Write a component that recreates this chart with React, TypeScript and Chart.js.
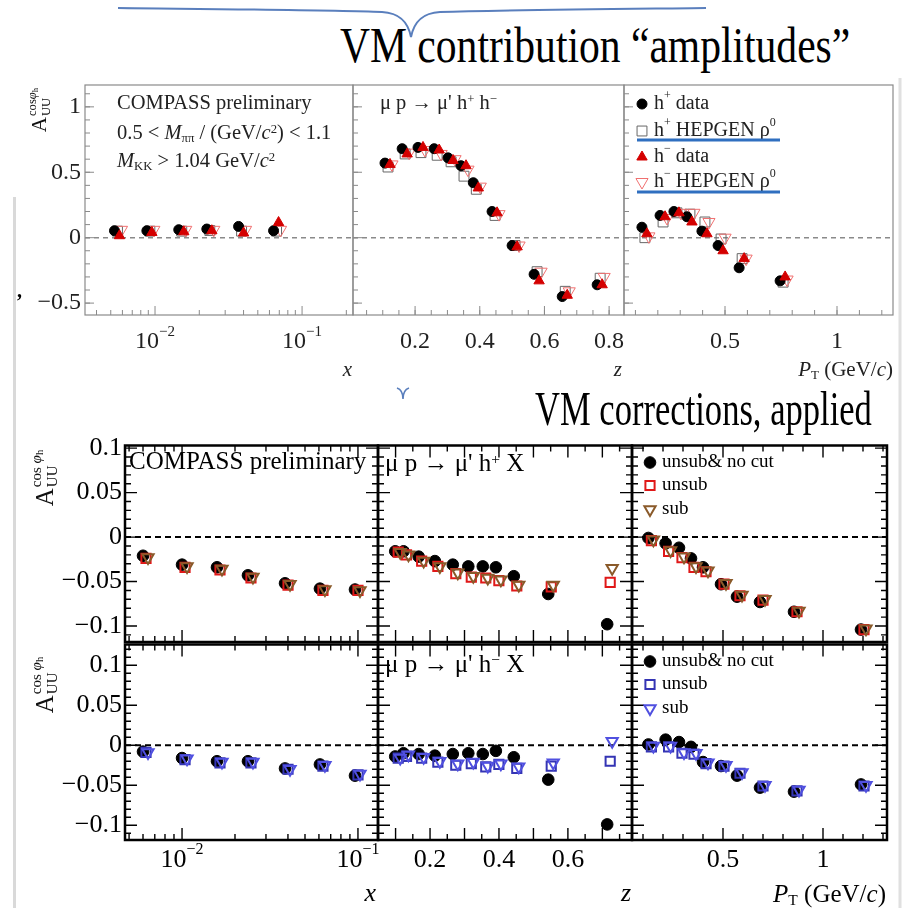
import React, { useEffect, useRef } from 'react';
import { Chart, registerables } from 'chart.js';
Chart.register(...registerables);

const SERIF = '"Liberation Serif", "Times New Roman", Times, serif';

// ---------------- DATA: top figure (VM contribution "amplitudes") ----------------
const topXBins = [0.0053, 0.0088, 0.0145, 0.0225, 0.037, 0.064];
const topXHpData = [0.053, 0.053, 0.061, 0.066, 0.086, 0.053];
const topXHpHepgen = [0.05, 0.05, 0.05, 0.055, 0.05, 0.05];
const topXHmData = [0.015, 0.04, 0.045, 0.053, 0.036, 0.116];
const topXHmHepgen = [0.06, 0.06, 0.06, 0.06, 0.06, 0.06];

const topZBins = [0.107, 0.16, 0.209, 0.259, 0.302, 0.342, 0.38, 0.438, 0.5, 0.568, 0.655, 0.763];
const topZHpData = [0.57, 0.68, 0.69, 0.68, 0.61, 0.55, 0.42, 0.2, -0.06, -0.28, -0.45, -0.36];
const topZHpHepgen = [0.54, 0.64, 0.65, 0.63, 0.58, 0.47, 0.37, 0.17, -0.06, -0.26, -0.41, -0.31];
const topZHmData = [0.56, 0.64, 0.69, 0.67, 0.59, 0.55, 0.38, 0.19, -0.07, -0.33, -0.44, -0.36];
const topZHmHepgen = [0.56, 0.65, 0.67, 0.64, 0.6, 0.52, 0.39, 0.18, -0.06, -0.26, -0.41, -0.3];

const topPtBins = [0.129, 0.21, 0.272, 0.33, 0.397, 0.469, 0.563, 0.746];
const topPtHpData = [0.08, 0.17, 0.2, 0.16, 0.05, -0.06, -0.23, -0.33];
const topPtHpHepgen = [0.0, 0.12, 0.19, 0.18, 0.12, -0.01, -0.16, -0.34];
const topPtHmData = [0.03, 0.16, 0.19, 0.12, 0.03, -0.1, -0.16, -0.3];
const topPtHmHepgen = [0.01, 0.15, 0.19, 0.19, 0.12, 0.0, -0.16, -0.32];

// ---------------- DATA: bottom figure (VM corrections, applied) ----------------
const botXBins = [0.006, 0.01, 0.0158, 0.0237, 0.0385, 0.0608, 0.0962];
const botZBins = [0.099, 0.123, 0.167, 0.214, 0.266, 0.311, 0.353, 0.391, 0.443, 0.543, 0.714];
const botPtBins = [0.127, 0.213, 0.28, 0.34, 0.4, 0.49, 0.57, 0.685, 0.855, 1.19];

const hpXNoCut = [-0.021, -0.031, -0.034, -0.043, -0.052, -0.058, -0.059];
const hpXUnsub = [-0.024, -0.034, -0.037, -0.046, -0.054, -0.06, -0.06];
const hpXSub = [-0.023, -0.033, -0.036, -0.045, -0.053, -0.059, -0.06];
const hpZNoCut = [-0.016, -0.016, -0.022, -0.027, -0.031, -0.033, -0.033, -0.034, -0.044, -0.064, -0.098];
const hpZUnsub = [-0.017, -0.02, -0.027, -0.033, -0.041, -0.045, -0.046, -0.049, -0.055, -0.056, -0.051];
const hpZSub = [-0.017, -0.02, -0.027, -0.033, -0.04, -0.044, -0.046, -0.048, -0.054, -0.054, -0.035];
const hpPtNoCut = [-0.001, -0.007, -0.012, -0.024, -0.034, -0.053, -0.067, -0.073, -0.084, -0.104];
const hpPtUnsub = [-0.004, -0.016, -0.023, -0.034, -0.039, -0.053, -0.066, -0.071, -0.084, -0.104];
const hpPtSub = [-0.003, -0.015, -0.022, -0.033, -0.038, -0.052, -0.065, -0.07, -0.083, -0.103];

const hmXNoCut = [-0.008, -0.016, -0.02, -0.02, -0.029, -0.024, -0.038];
const hmXUnsub = [-0.009, -0.018, -0.022, -0.022, -0.03, -0.026, -0.037];
const hmXSub = [-0.009, -0.017, -0.021, -0.021, -0.03, -0.025, -0.036];
const hmZNoCut = [-0.014, -0.01, -0.011, -0.013, -0.011, -0.01, -0.011, -0.007, -0.015, -0.043, -0.099];
const hmZUnsub = [-0.016, -0.014, -0.016, -0.021, -0.025, -0.023, -0.027, -0.024, -0.029, -0.026, -0.02];
const hmZSub = [-0.016, -0.012, -0.015, -0.02, -0.023, -0.021, -0.026, -0.023, -0.027, -0.022, 0.005];
const hmPtNoCut = [0.001, 0.007, 0.004, -0.002, -0.021, -0.026, -0.038, -0.053, -0.058, -0.049];
const hmPtUnsub = [-0.002, -0.002, -0.01, -0.011, -0.023, -0.026, -0.035, -0.051, -0.057, -0.051];
const hmPtSub = [-0.001, -0.001, -0.009, -0.01, -0.022, -0.025, -0.034, -0.05, -0.056, -0.05];

// ---------------- TICK LABELS ----------------
const topYTickValues = [-0.5, 0, 0.5, 1];
const topYTickLabels = ['−0.5', '0', '0.5', '1'];
const logTickValues = [0.01, 0.1];
const logTickExps = ['−2', '−1'];
const topZTickValues = [0.2, 0.4, 0.6, 0.8];
const topZTickLabels = ['0.2', '0.4', '0.6', '0.8'];
const ptTickValues = [0.5, 1];
const ptTickLabels = ['0.5', '1'];
const botYTickValues = [-0.1, -0.05, 0, 0.05, 0.1];
const botYTickLabels = ['−0.1', '−0.05', '0', '0.05', '0.1'];
const botZTickValues = [0.2, 0.4, 0.6];
const botZTickLabels = ['0.2', '0.4', '0.6'];

// ---------------- helpers ----------------
function steps(a: number, b: number, s: number) {
  const out: number[] = [];
  for (let v = a; v <= b + 1e-9; v += s) out.push(Math.round(v * 1e6) / 1e6);
  return out;
}
function logMinor(d0: number, d1: number) {
  const out: number[] = [];
  for (let d = d0; d <= d1; d++) for (let k = 2; k <= 9; k++) out.push(k * Math.pow(10, d));
  return out;
}

type Seg = { t: string; sup?: boolean; sub?: boolean; it?: boolean };
function drawRich(ctx: any, segs: Seg[], x: number, y: number, align: string, size: number) {
  const fontFor = (s: Seg) => `${s.it ? 'italic ' : ''}${s.sup || s.sub ? Math.round(size * 0.62) : size}px ${SERIF}`;
  let total = 0;
  const widths = segs.map((s) => {
    ctx.font = fontFor(s);
    const w = ctx.measureText(s.t).width;
    total += w;
    return w;
  });
  let cx = align === 'center' ? x - total / 2 : align === 'right' ? x - total : x;
  ctx.textBaseline = 'middle';
  ctx.textAlign = 'left';
  segs.forEach((s, i) => {
    ctx.font = fontFor(s);
    const dy = s.sup ? -size * 0.4 : s.sub ? size * 0.25 : 0;
    ctx.fillText(s.t, cx, y + dy);
    cx += widths[i];
  });
}

function drawMarker(ctx: any, m: any, x: number, y: number) {
  ctx.save();
  ctx.lineWidth = m.lw;
  ctx.strokeStyle = m.stroke;
  ctx.fillStyle = m.fill;
  ctx.beginPath();
  if (m.shape === 'circle') ctx.arc(x, y, m.r, 0, Math.PI * 2);
  else if (m.shape === 'rect') {
    const s = m.r * Math.SQRT1_2;
    ctx.rect(x - s, y - s, 2 * s, 2 * s);
  } else {
    let rad = ((m.rot || 0) * Math.PI) / 180;
    ctx.moveTo(x + Math.sin(rad) * m.r, y - Math.cos(rad) * m.r);
    rad += (2 * Math.PI) / 3;
    ctx.lineTo(x + Math.sin(rad) * m.r, y - Math.cos(rad) * m.r);
    rad += (2 * Math.PI) / 3;
    ctx.lineTo(x + Math.sin(rad) * m.r, y - Math.cos(rad) * m.r);
    ctx.closePath();
  }
  ctx.fill();
  ctx.stroke();
  ctx.restore();
}

// marker styles
const CLEAR = 'rgba(0,0,0,0)';
const mTopCircle = { shape: 'circle', r: 5, fill: '#000', stroke: '#000', lw: 1 };
const mTopTri = { shape: 'triangle', r: 6, fill: '#d40000', stroke: '#d40000', lw: 1 };
const mTopSq = { shape: 'rect', r: 7, fill: CLEAR, stroke: '#666', lw: 1 };
const mTopITri = { shape: 'triangle', r: 7, rot: 180, fill: CLEAR, stroke: '#f07070', lw: 1 };
const mBotCircle = { shape: 'circle', r: 5.8, fill: '#000', stroke: '#000', lw: 1 };
const mRedSq = { shape: 'rect', r: 6.5, fill: CLEAR, stroke: '#e01818', lw: 2 };
const mBrownTri = { shape: 'triangle', r: 6.5, rot: 180, fill: CLEAR, stroke: '#8a5a2a', lw: 2 };
const mBlueSq = { shape: 'rect', r: 6.5, fill: CLEAR, stroke: '#3434b4', lw: 2 };
const mBlueTri = { shape: 'triangle', r: 6.5, rot: 180, fill: CLEAR, stroke: '#5050e0', lw: 2 };

function series(label: string, xs: number[], ys: number[], m: any, shift: number) {
  return {
    label,
    data: xs.map((x, i) => ({ x, y: ys[i] })),
    showLine: false,
    pointStyle: m.shape,
    pointRadius: m.r,
    pointRotation: m.rot || 0,
    pointBorderWidth: m.lw,
    pointBorderColor: m.stroke,
    pointBackgroundColor: m.fill,
    shift,
  };
}

function framePlugin(o: any) {
  return {
    id: 'rootFrame',
    afterDatasetsUpdate(chart: any) {
      chart.data.datasets.forEach((ds: any, i: number) => {
        if (!ds.shift) return;
        chart.getDatasetMeta(i).data.forEach((el: any) => {
          el.x += ds.shift;
        });
      });
    },
    beforeDatasetsDraw(chart: any) {
      const { ctx, chartArea: a } = chart;
      const y0 = chart.scales.y.getPixelForValue(0);
      ctx.save();
      ctx.strokeStyle = o.zeroColor;
      ctx.lineWidth = o.zeroWidth;
      ctx.setLineDash(o.zeroDash);
      ctx.beginPath();
      ctx.moveTo(a.left, y0);
      ctx.lineTo(a.right, y0);
      ctx.stroke();
      ctx.restore();
    },
    afterDatasetsDraw(chart: any) {
      const { ctx, chartArea: a, scales } = chart;
      const sx = scales.x;
      const sy = scales.y;
      ctx.save();
      ctx.strokeStyle = o.color;
      ctx.lineWidth = o.tickWidth;
      ctx.beginPath();
      const xt = (vals: number[], len: number) =>
        vals.forEach((v) => {
          const p = sx.getPixelForValue(v);
          if (p < a.left + 1 || p > a.right - 1) return;
          ctx.moveTo(p, a.bottom);
          ctx.lineTo(p, a.bottom - len);
          if (o.allSides) {
            ctx.moveTo(p, a.top);
            ctx.lineTo(p, a.top + len);
          }
        });
      const yt = (vals: number[], len: number) =>
        vals.forEach((v) => {
          const p = sy.getPixelForValue(v);
          if (p < a.top + 1 || p > a.bottom - 1) return;
          ctx.moveTo(a.left, p);
          ctx.lineTo(a.left + len, p);
          if (o.allSides) {
            ctx.moveTo(a.right, p);
            ctx.lineTo(a.right - len, p);
          }
        });
      xt(o.xMinor, o.minLen);
      xt(o.xMajor, o.majLen);
      yt(o.yMinor, o.minLen);
      yt(o.yMajor, o.majLen);
      ctx.stroke();
      ctx.lineWidth = o.frameWidth;
      ctx.strokeRect(a.left, a.top, a.right - a.left, a.bottom - a.top);
      ctx.fillStyle = o.labelColor;
      (o.xLabels || []).forEach((L: any) =>
        drawRich(ctx, L.segs, sx.getPixelForValue(L.v), a.bottom + o.xLabelDy, 'center', o.labelSize)
      );
      (o.yLabels || []).forEach((L: any) =>
        drawRich(ctx, L.segs, a.left - o.yLabelDx, sy.getPixelForValue(L.v), 'right', o.labelSize)
      );
      (o.legend || []).forEach((L: any) => {
        drawMarker(ctx, L.m, a.left + L.mx, a.top + L.dy);
        ctx.fillStyle = o.labelColor;
        drawRich(ctx, L.segs, a.left + L.tx, a.top + L.dy, 'left', o.legendSize);
      });
      ctx.restore();
    },
  };
}

const PAD = { l: 90, t: 6, r: 10, b: 50 };

function makeConfig(xAxis: any, yRange: number[], datasets: any[], frame: any) {
  return {
    type: 'scatter',
    data: { datasets },
    options: {
      animation: false,
      responsive: false,
      maintainAspectRatio: false,
      events: [],
      layout: { padding: { left: PAD.l, top: PAD.t, right: PAD.r, bottom: PAD.b } },
      scales: {
        x: { type: xAxis.type, min: xAxis.min, max: xAxis.max, display: false },
        y: { type: 'linear', min: yRange[0], max: yRange[1], display: false },
      },
      plugins: { legend: { display: false }, tooltip: { enabled: false } },
    },
    plugins: [framePlugin(frame)],
  };
}

function Panel({ rect, build }: { rect: any; build: () => any }) {
  const ref = useRef<HTMLCanvasElement>(null);
  const w = rect.r - rect.l + PAD.l + PAD.r;
  const h = rect.b - rect.t + PAD.t + PAD.b;
  useEffect(() => {
    const chart = new Chart(ref.current as HTMLCanvasElement, build() as any);
    return () => chart.destroy();
  }, []);
  return (
    <canvas
      ref={ref}
      width={w}
      height={h}
      style={{ position: 'absolute', left: rect.l - PAD.l, top: rect.t - PAD.t, width: w, height: h, zIndex: 1 }}
    />
  );
}

// ---------------- layout (frame rectangles) ----------------
const TOP_T = 83, TOP_B = 315;
const topRects = [
  { l: 85, t: TOP_T, r: 353, b: TOP_B },
  { l: 353, t: TOP_T, r: 624, b: TOP_B },
  { l: 624, t: TOP_T, r: 893, b: TOP_B },
];
const colsB = [
  [125, 378],
  [378, 632],
  [632, 887],
];
const rowsB = [
  [443, 642],
  [642, 840],
];

const topYRange = [-0.591, 1.167];
const botYRanges = [
  [-0.118, 0.103],
  [-0.1185, 0.126],
];

const topX = [
  { type: 'logarithmic', min: 0.00334, max: 0.222 },
  { type: 'linear', min: 0.008, max: 0.846 },
  { type: 'linear', min: 0.049, max: 1.25 },
];
const botX = [
  { type: 'logarithmic', min: 0.00474, max: 0.13 },
  { type: 'linear', min: 0.049, max: 0.786 },
  { type: 'linear', min: 0.045, max: 1.32 },
];

const plain = (t: string): Seg[] => [{ t }];
const pow10 = (e: string): Seg[] => [{ t: '10' }, { t: e, sup: true }];

function topFrame(col: number) {
  const xMajor = [logTickValues, topZTickValues, ptTickValues][col];
  const xMinor = [logMinor(-3, -1), steps(0.05, 0.85, 0.05), steps(0.1, 1.2, 0.1)][col];
  const xLabels =
    col === 0
      ? logTickValues.map((v, i) => ({ v, segs: pow10(logTickExps[i]) }))
      : col === 1
      ? topZTickValues.map((v, i) => ({ v, segs: plain(topZTickLabels[i]) }))
      : ptTickValues.map((v, i) => ({ v, segs: plain(ptTickLabels[i]) }));
  return {
    color: '#8a8a8a',
    tickWidth: 1,
    frameWidth: 1.2,
    majLen: 9,
    minLen: 5,
    allSides: false,
    zeroColor: '#8a8a8a',
    zeroWidth: 1.5,
    zeroDash: [5, 4],
    xMajor,
    xMinor,
    yMajor: topYTickValues,
    yMinor: steps(-0.5, 1.1, 0.1),
    xLabels,
    yLabels: col === 0 ? topYTickValues.map((v, i) => ({ v, segs: plain(topYTickLabels[i]) })) : [],
    labelSize: 24,
    labelColor: '#222',
    xLabelDy: 27,
    yLabelDx: 4,
    legendSize: 20,
    legend:
      col === 2
        ? [
            { m: mTopCircle, mx: 18, tx: 30, dy: 19, segs: [{ t: 'h' }, { t: '+', sup: true }, { t: ' data' }] },
            { m: mTopSq, mx: 18, tx: 30, dy: 46, segs: [{ t: 'h' }, { t: '+', sup: true }, { t: ' HEPGEN ρ' }, { t: '0', sup: true }] },
            { m: mTopTri, mx: 18, tx: 30, dy: 72, segs: [{ t: 'h' }, { t: '−', sup: true }, { t: ' data' }] },
            { m: mTopITri, mx: 18, tx: 30, dy: 97, segs: [{ t: 'h' }, { t: '−', sup: true }, { t: ' HEPGEN ρ' }, { t: '0', sup: true }] },
          ]
        : [],
  };
}

function botFrame(row: number, col: number, legendMarkers: any[]) {
  const xMajor = [logTickValues, steps(0.1, 0.7, 0.1), ptTickValues][col];
  const xMinor = [logMinor(-3, -1), steps(0.05, 0.75, 0.05), steps(0.1, 1.3, 0.1)][col];
  const xLabels =
    row === 0
      ? []
      : col === 0
      ? logTickValues.map((v, i) => ({ v, segs: pow10(logTickExps[i]) }))
      : col === 1
      ? botZTickValues.map((v, i) => ({ v, segs: plain(botZTickLabels[i]) }))
      : ptTickValues.map((v, i) => ({ v, segs: plain(ptTickLabels[i]) }));
  return {
    color: '#000',
    tickWidth: 1.4,
    frameWidth: 2.5,
    majLen: 12,
    minLen: 6,
    allSides: true,
    zeroColor: '#000',
    zeroWidth: 2,
    zeroDash: [6, 4],
    xMajor,
    xMinor,
    yMajor: botYTickValues,
    yMinor: steps(-0.11, 0.12, 0.01),
    xLabels,
    yLabels: col === 0 ? botYTickValues.map((v, i) => ({ v, segs: plain(botYTickLabels[i]) })) : [],
    labelSize: 26,
    labelColor: '#000',
    xLabelDy: 20,
    yLabelDx: 3,
    legendSize: 19,
    legend:
      col === 2
        ? [
            { m: mBotCircle, mx: 18, tx: 30, dy: 17, segs: plain('unsub& no cut') },
            { m: legendMarkers[0], mx: 18, tx: 30, dy: 40, segs: plain('unsub') },
            { m: legendMarkers[1], mx: 18, tx: 30, dy: 64, segs: plain('sub') },
          ]
        : [],
  };
}

function buildTop(col: number) {
  const bins = [topXBins, topZBins, topPtBins][col];
  const hpD = [topXHpData, topZHpData, topPtHpData][col];
  const hpH = [topXHpHepgen, topZHpHepgen, topPtHpHepgen][col];
  const hmD = [topXHmData, topZHmData, topPtHmData][col];
  const hmH = [topXHmHepgen, topZHmHepgen, topPtHmHepgen][col];
  const ds = [
    series('h- data', bins, hmD, mTopTri, 5),
    series('h+ data', bins, hpD, mTopCircle, 0),
    series('h- HEPGEN rho0', bins, hmH, mTopITri, 7),
    series('h+ HEPGEN rho0', bins, hpH, mTopSq, 3),
  ];
  return makeConfig(topX[col], topYRange, ds, topFrame(col));
}

function buildBot(row: number, col: number) {
  const bins = [botXBins, botZBins, botPtBins][col];
  const noCut = row === 0 ? [hpXNoCut, hpZNoCut, hpPtNoCut][col] : [hmXNoCut, hmZNoCut, hmPtNoCut][col];
  const unsub = row === 0 ? [hpXUnsub, hpZUnsub, hpPtUnsub][col] : [hmXUnsub, hmZUnsub, hmPtUnsub][col];
  const sub = row === 0 ? [hpXSub, hpZSub, hpPtSub][col] : [hmXSub, hmZSub, hmPtSub][col];
  const mSq = row === 0 ? mRedSq : mBlueSq;
  const mTri = row === 0 ? mBrownTri : mBlueTri;
  const ds = [
    series('sub', bins, sub, mTri, 5),
    series('unsub', bins, unsub, mSq, 3),
    series('unsub & no cut', bins, noCut, mBotCircle, 0),
  ];
  return makeConfig(botX[col], botYRanges[row], ds, botFrame(row, col, [mSq, mTri]));
}

// ---------------- HTML text ----------------
const supS: any = { fontSize: '0.62em', verticalAlign: '0.45em', lineHeight: 0 };
const subS: any = { fontSize: '0.62em', verticalAlign: '-0.25em', lineHeight: 0 };

function T({ x, y, size, children, align = 'left', italic = false, color = '#000', sx = 1 }: any) {
  const tx = align === 'left' ? '0' : align === 'right' ? '-100%' : '-50%';
  const origin = align === 'left' ? 'left center' : align === 'right' ? 'right center' : 'center center';
  return (
    <div
      style={{
        position: 'absolute',
        left: x,
        top: y,
        transform: `translate(${tx}, -50%) scaleX(${sx})`,
        transformOrigin: origin,
        fontFamily: SERIF,
        fontSize: size,
        lineHeight: 1,
        whiteSpace: 'nowrap',
        color,
        zIndex: 2,
        fontStyle: italic ? 'italic' : 'normal',
      }}
    >
      {children}
    </div>
  );
}

function YTitle({ cx, cy, size, space }: any) {
  return (
    <div
      style={{
        position: 'absolute',
        left: cx,
        top: cy,
        transform: 'translate(-50%, -50%) rotate(-90deg)',
        fontFamily: SERIF,
        fontSize: size,
        lineHeight: 1,
        whiteSpace: 'nowrap',
        display: 'flex',
        alignItems: 'center',
        zIndex: 2,
        color: '#111',
      }}
    >
      <span>A</span>
      <span style={{ display: 'inline-flex', flexDirection: 'column', fontSize: size * 0.6, lineHeight: 1.05, marginLeft: 1 }}>
        <span>
          cos{space ? ' ' : ''}
          <i>φ</i>
          <span style={{ fontSize: '0.7em', verticalAlign: '-0.2em' }}>h</span>
        </span>
        <span>UU</span>
      </span>
    </div>
  );
}

export default function App() {
  return (
    <div
      style={{
        position: 'absolute',
        left: 0,
        top: 0,
        width: 909,
        height: 908,
        overflow: 'hidden',
        background: '#fff',
        fontFamily: SERIF,
      }}
    >
      <svg width={909} height={908} style={{ position: 'absolute', left: 0, top: 0, zIndex: 0 }}>
        <path
          d="M118 8 C 200 9, 330 10, 382 12 C 400 13, 408 22, 411 37 C 414 22, 422 13, 440 12 C 500 10, 620 9, 706 8"
          stroke="#5a7fbd"
          strokeWidth={2}
          fill="none"
        />
        <path d="M397 388 Q 403 390 403 399 Q 403 390 409 388" stroke="#5a7fbd" strokeWidth={1.6} fill="none" />
        <line x1={14.5} y1={197} x2={14.5} y2={908} stroke="#d9d9d9" strokeWidth={3} />
        <line x1={900} y1={78} x2={900} y2={908} stroke="#e0e0e0" strokeWidth={3} />
      </svg>
      <svg width={909} height={908} style={{ position: 'absolute', left: 0, top: 0, zIndex: 3, pointerEvents: 'none' }}>
        <line x1={637} y1={140} x2={780} y2={140} stroke="#2f6fc0" strokeWidth={3} />
        <line x1={637} y1={192} x2={780} y2={192} stroke="#2f6fc0" strokeWidth={3} />
      </svg>

      {topRects.map((r, i) => (
        <Panel key={'t' + i} rect={r} build={() => buildTop(i)} />
      ))}
      {rowsB.map((rw, ri) =>
        colsB.map((c, ci) => (
          <Panel key={'b' + ri + ci} rect={{ l: c[0], r: c[1], t: rw[0], b: rw[1] }} build={() => buildBot(ri, ci)} />
        ))
      )}

      {/* titles */}
      <T x={340} y={45} size={51} sx={0.815}>
        VM contribution “amplitudes”
      </T>
      <T x={535} y={409} size={48} sx={0.72}>
        VM corrections, applied
      </T>
      <T x={16} y={301} size={20}>
        <b>’</b>
      </T>

      {/* top annotations */}
      <T x={117} y={102} size={20.5} color="#222">
        COMPASS preliminary
      </T>
      <T x={117} y={132} size={20.5} color="#222">
        0.5 &lt; <i>M</i>
        <span style={subS}>ππ</span> / (GeV/<i>c</i>
        <span style={supS}>2</span>) &lt; 1.1
      </T>
      <T x={117} y={160} size={20.5} color="#222">
        <i>M</i>
        <span style={subS}>KK</span> &gt; 1.04 GeV/<i>c</i>
        <span style={supS}>2</span>
      </T>
      <T x={380} y={102} size={20.5} color="#222">
        μ p → μ' h<span style={supS}>+</span> h<span style={supS}>−</span>
      </T>
      <YTitle cx={40} cy={110} size={21} space={false} />
      <T x={352} y={369} size={21} align="right" italic color="#222">
        x
      </T>
      <T x={622} y={369} size={21} align="right" italic color="#222">
        z
      </T>
      <T x={893} y={369} size={21} align="right" color="#222">
        <i>P</i>
        <span style={subS}>T</span> (GeV/<i>c</i>)
      </T>

      {/* bottom annotations */}
      <T x={129} y={460} size={25}>
        COMPASS preliminary
      </T>
      <T x={385} y={462} size={25}>
        μ p → μ' h<span style={supS}>+</span> X
      </T>
      <T x={385} y={663} size={25}>
        μ p → μ' h<span style={supS}>−</span> X
      </T>
      <YTitle cx={45} cy={478} size={25} space />
      <YTitle cx={45} cy={685} size={25} space />
      <T x={376} y={893} size={26} align="right" italic>
        x
      </T>
      <T x={631} y={893} size={26} align="right" italic>
        z
      </T>
      <T x={886} y={893} size={25} align="right">
        <i>P</i>
        <span style={subS}>T</span> (GeV/<i>c</i>)
      </T>
    </div>
  );
}
